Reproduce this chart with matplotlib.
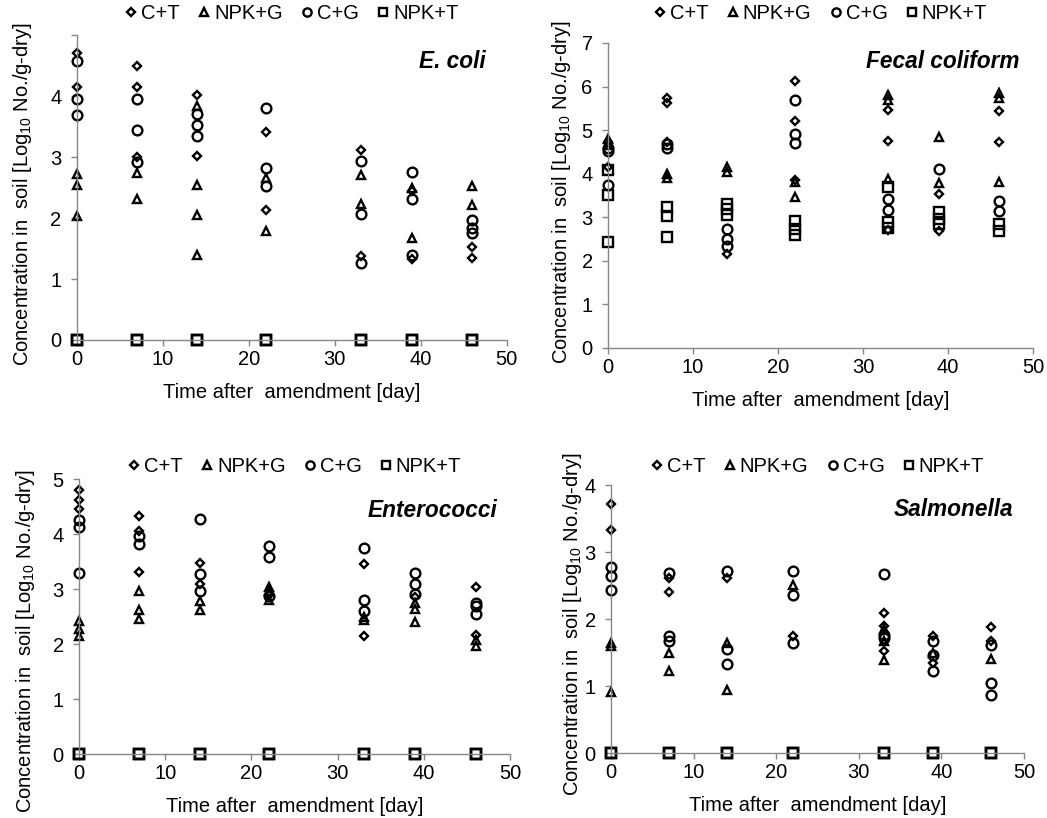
import matplotlib
matplotlib.use('Agg')
import matplotlib.pyplot as plt

plt.rcParams['font.family'] = ['Liberation Sans', 'DejaVu Sans']
plt.rcParams['mathtext.fontset'] = 'custom'
plt.rcParams['mathtext.rm'] = 'Liberation Sans'

days = [0, 7, 14, 22, 33, 39, 46]
treatments = ['C+T', 'NPK+G', 'C+G', 'NPK+T']

# values per sampling day (one inner list per day)
ecoli_ct = [[4.70, 4.15], [4.50, 4.15, 3.00], [4.02, 3.01], [3.41, 2.13], [3.12, 1.38], [2.45, 1.32], [1.52, 1.35]]
ecoli_npkg = [[2.72, 2.54, 2.04], [2.74, 2.31], [3.84, 2.55, 2.05, 1.39], [2.65, 1.79], [2.70, 2.23], [2.50, 1.68], [2.52, 2.21]]
ecoli_cg = [[4.57, 3.96, 3.69], [3.96, 3.45, 2.92], [3.70, 3.52, 3.34], [3.80, 2.82, 2.52], [2.94, 2.06, 1.27], [2.75, 2.32, 1.40], [1.97, 1.84, 1.75]]
ecoli_npkt = [[0, 0, 0], [0, 0, 0], [0, 0, 0], [0, 0, 0], [0, 0, 0], [0, 0, 0], [0, 0, 0]]

fecal_ct = [[4.72, 4.15], [5.73, 5.62, 4.72], [2.15], [6.13, 5.22, 3.85], [5.46, 4.75, 2.70], [3.54, 2.69], [5.44, 4.72]]
fecal_npkg = [[4.80, 4.65], [4.00, 3.90], [4.15, 4.03], [3.80, 3.46], [5.81, 5.70, 3.88], [4.85, 3.78], [5.86, 5.73, 3.81]]
fecal_cg = [[4.58, 4.52, 3.75], [4.69, 4.58], [2.73, 2.50, 2.33], [5.68, 4.92, 4.71], [3.42, 3.17], [4.10], [3.38, 3.14]]
fecal_npkt = [[4.08, 3.50, 2.43], [3.23, 3.04, 2.54], [3.31, 3.18, 3.05], [2.92, 2.73, 2.60], [3.69, 2.90, 2.75], [3.12, 2.95, 2.85], [2.85, 2.68]]

ent_ct = [[4.80, 4.61, 4.45], [4.32, 4.05, 3.31], [3.47, 3.10], [2.90], [3.46, 2.15], [2.85], [3.04, 2.17]]
ent_npkg = [[2.41, 2.27, 2.14], [2.97, 2.62, 2.46], [2.78, 2.62], [3.04, 2.96, 2.80], [2.50, 2.43], [2.75, 2.64, 2.40], [2.08, 1.96]]
ent_cg = [[4.25, 4.12, 3.29], [3.97, 3.82], [4.27, 3.28, 2.96], [3.78, 3.58, 2.88], [3.74, 2.80, 2.60], [3.29, 3.10, 2.91], [2.75, 2.69, 2.54]]
ent_npkt = [[0, 0, 0], [0, 0, 0], [0, 0, 0], [0, 0, 0], [0, 0, 0], [0, 0, 0], [0, 0, 0]]

sal_ct = [[3.72, 3.33], [2.61, 2.40], [2.61], [1.75], [2.09, 1.90, 1.53], [1.75, 1.35], [1.88, 1.68]]
sal_npkg = [[1.65, 1.60, 0.91], [1.49, 1.23], [1.64, 0.94], [2.51], [1.85, 1.68, 1.39], [1.50], [1.40]]
sal_cg = [[2.78, 2.64, 2.44], [2.69, 1.75, 1.68], [2.72, 1.55, 1.33], [2.72, 2.36, 1.65], [2.68, 1.76, 1.72], [1.68, 1.47, 1.23], [1.62, 1.04, 0.87]]
sal_npkt = [[0, 0, 0], [0, 0, 0], [0, 0, 0], [0, 0, 0], [0, 0, 0], [0, 0, 0], [0, 0, 0]]

# name, data, y max, axes rect, title pos, ylabel coords, legend y (figure)
panels = [
    ('E. coli', [ecoli_ct, ecoli_npkg, ecoli_cg, ecoli_npkt], 5,
     [0.0733, 0.5844, 0.4107, 0.3726], (0.952, 0.915), (-0.099, 0.48), 0.984),
    ('Fecal coliform', [fecal_ct, fecal_npkg, fecal_cg, fecal_npkt], 7,
     [0.5807, 0.5746, 0.4059, 0.3729], (0.969, 0.94), (-0.082, 0.51), 0.984),
    ('Enterococci', [ent_ct, ent_npkg, ent_cg, ent_npkt], 5,
     [0.0755, 0.0782, 0.4117, 0.3362], (0.97, 0.884), (-0.097, 0.41), 0.430),
    ('Salmonella', [sal_ct, sal_npkg, sal_cg, sal_npkt], 4,
     [0.5836, 0.0794, 0.3945, 0.3276], (0.973, 0.907), (-0.065, 0.48), 0.430),
]

# marker styles for each treatment
styles = [
    dict(marker='D', markersize=4.3),
    dict(marker='^', markersize=6),
    dict(marker='o', markersize=7),
    dict(marker='s', markersize=7),
]

grey = '#868686'
fs = 14.5
fig = plt.figure(figsize=(10.47, 8.18), dpi=100)

for name, series, ymax, pos, tpos, lpos, legy in panels:
    ax = fig.add_axes(pos)
    for label, data, st in zip(treatments, series, styles):
        xs = []
        ys = []
        for d, vals in zip(days, data):
            for v in vals:
                xs.append(d)
                ys.append(v)
        ax.plot(xs, ys, linestyle='none', color='black', markerfacecolor='none',
                markeredgewidth=1.7, clip_on=False, label=label, **st)

    ax.set_xlim(0, 50)
    ax.set_ylim(0, ymax)
    ax.set_xticks(range(0, 51, 10))
    ax.set_yticks(range(0, ymax + 1))
    if name == 'E. coli':
        ax.set_yticklabels([str(i) for i in range(ymax)] + [''])
    for s in ['top', 'right']:
        ax.spines[s].set_visible(False)
    for s in ['left', 'bottom']:
        ax.spines[s].set_color(grey)
        ax.spines[s].set_linewidth(1.0)
    ax.tick_params(direction='out', length=4, width=1.0, color=grey, labelsize=fs)
    ax.tick_params(axis='x', pad=3.4)
    ax.tick_params(axis='y', pad=7)
    ax.set_xlabel('Time after  amendment [day]', fontsize=fs, labelpad=10)
    ax.set_ylabel('Concentration in  soil [Log$_{10}$ No./g-dry]', fontsize=fs)
    ax.yaxis.set_label_coords(lpos[0], lpos[1])
    ax.text(tpos[0], tpos[1], name, transform=ax.transAxes, ha='right', va='center',
            fontsize=16.3, fontstyle='italic', fontweight='bold')
    cx = pos[0] + pos[2] / 2
    ax.legend(loc='center', bbox_to_anchor=(cx, legy), bbox_transform=fig.transFigure,
              ncol=4, frameon=False, fontsize=fs, handletextpad=0.2, columnspacing=0.9,
              handlelength=0.6, borderaxespad=0, borderpad=0, markerscale=0.85)

fig.savefig('out.png', dpi=100)
